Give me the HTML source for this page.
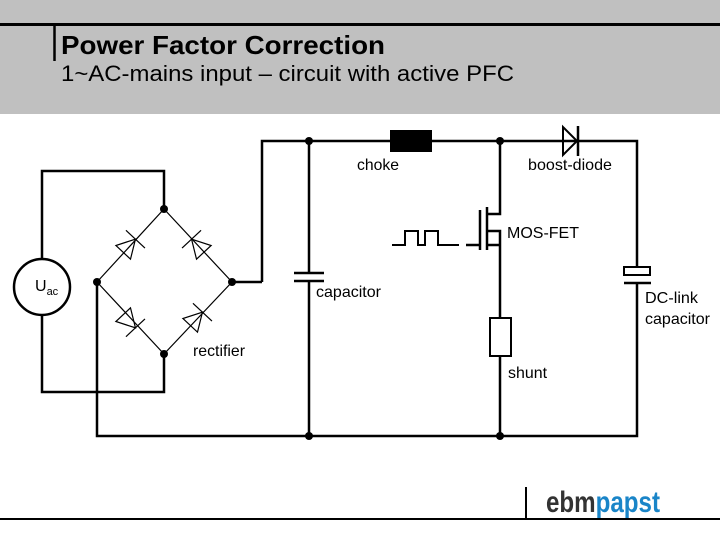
<!DOCTYPE html>
<html><head><style>
body{margin:0;width:720px;height:540px;background:#fff;overflow:hidden;font-family:"Liberation Sans",sans-serif}
</style></head><body>
<svg width="720" height="540" xmlns="http://www.w3.org/2000/svg" font-family="Liberation Sans, sans-serif">
<rect x="0" y="0" width="720" height="114" fill="#c0c0c0"/>
<line x1="0" y1="24.5" x2="720" y2="24.5" stroke="#000" stroke-width="3"/>
<line x1="54.5" y1="25" x2="54.5" y2="61" stroke="#000" stroke-width="2.5"/>
<text x="61" y="54" font-size="26" font-weight="bold" textLength="324" lengthAdjust="spacingAndGlyphs">Power Factor Correction</text>
<text x="61" y="81" font-size="22" textLength="453" lengthAdjust="spacingAndGlyphs">1~AC-mains input – circuit with active PFC</text>

<g stroke="#000" stroke-width="2.5" fill="none">
<polyline points="262,282 262,141 637,141 637,267"/>
<polyline points="637,283 637,436 97,436 97,282"/>
<polyline points="42,259 42,171 164,171 164,209"/>
<polyline points="42,315 42,392 164,392 164,354"/>
<polyline points="232,282 262,282"/>
<line x1="309" y1="141" x2="309" y2="273"/>
<line x1="309" y1="281" x2="309" y2="436"/>
<line x1="294" y1="273" x2="324" y2="273"/>
<line x1="294" y1="281" x2="324" y2="281"/>
<polyline points="500,141 500,214 487,214"/>
<polyline points="487,231 500,231 500,318"/>
<polyline points="487,245 500,245"/>
<line x1="500" y1="356" x2="500" y2="436"/>
<rect x="490" y="318" width="21" height="38" stroke-width="2"/>
<line x1="487" y1="207" x2="487" y2="250" stroke-width="2.5"/>
<line x1="480" y1="210" x2="480" y2="250" stroke-width="2.5"/>
<line x1="466" y1="245" x2="480" y2="245"/>
<polyline points="392,245 405,245 405,231 418,231 418,245 425,245 425,231 438,231 438,245 459,245" stroke-width="2"/>
<rect x="624" y="267" width="26" height="8" stroke-width="2"/>
<line x1="624" y1="283" x2="651" y2="283"/>
<circle cx="42" cy="287" r="28"/>
</g>
<rect x="390" y="130" width="42" height="22" fill="#000"/>
<polygon points="563,127 563,155 577,141" fill="none" stroke="#000" stroke-width="2"/>
<line x1="578" y1="126" x2="578" y2="156" stroke="#000" stroke-width="2.5"/>
<g stroke="#000" stroke-width="1.2" fill="none">
<polyline points="97,282 164,209 232,282 164,354 97,282"/>
<g transform="translate(130,245) rotate(-47)"><polygon points="-10,-10 -10,10 8,0"/><line x1="8" y1="-13" x2="8" y2="13"/></g>
<g transform="translate(197,245) rotate(227)"><polygon points="-10,-10 -10,10 8,0"/><line x1="8" y1="-13" x2="8" y2="13"/></g>
<g transform="translate(130,322) rotate(47)"><polygon points="-10,-10 -10,10 8,0"/><line x1="8" y1="-13" x2="8" y2="13"/></g>
<g transform="translate(197,318) rotate(-47)"><polygon points="-10,-10 -10,10 8,0"/><line x1="8" y1="-13" x2="8" y2="13"/></g>
</g>
<g fill="#000">
<circle cx="309" cy="141" r="4"/><circle cx="500" cy="141" r="4"/>
<circle cx="309" cy="436" r="4"/><circle cx="500" cy="436" r="4"/>
<circle cx="164" cy="209" r="4"/><circle cx="97" cy="282" r="4"/>
<circle cx="232" cy="282" r="4"/><circle cx="164" cy="354" r="4"/>
</g>
<g font-size="16" fill="#000">
<text x="357" y="170" textLength="42" lengthAdjust="spacingAndGlyphs">choke</text>
<text x="528" y="170" textLength="84" lengthAdjust="spacingAndGlyphs">boost-diode</text>
<text x="507" y="238" textLength="72" lengthAdjust="spacingAndGlyphs">MOS-FET</text>
<text x="316" y="297" textLength="65" lengthAdjust="spacingAndGlyphs">capacitor</text>
<text x="645" y="303" textLength="53" lengthAdjust="spacingAndGlyphs">DC-link</text>
<text x="645" y="324" textLength="65" lengthAdjust="spacingAndGlyphs">capacitor</text>
<text x="193" y="356" textLength="52" lengthAdjust="spacingAndGlyphs">rectifier</text>
<text x="508" y="378" textLength="39" lengthAdjust="spacingAndGlyphs">shunt</text>
<text x="35" y="291">U<tspan font-size="11" dy="4">ac</tspan></text>
</g>
<line x1="0" y1="519" x2="720" y2="519" stroke="#000" stroke-width="2"/>
<line x1="526" y1="487" x2="526" y2="519" stroke="#000" stroke-width="2"/>
<text x="546" y="512" font-size="30" font-weight="bold" textLength="114" lengthAdjust="spacingAndGlyphs"><tspan fill="#333">ebm</tspan><tspan fill="#1a85c8">papst</tspan></text>
</svg>
</body></html>
